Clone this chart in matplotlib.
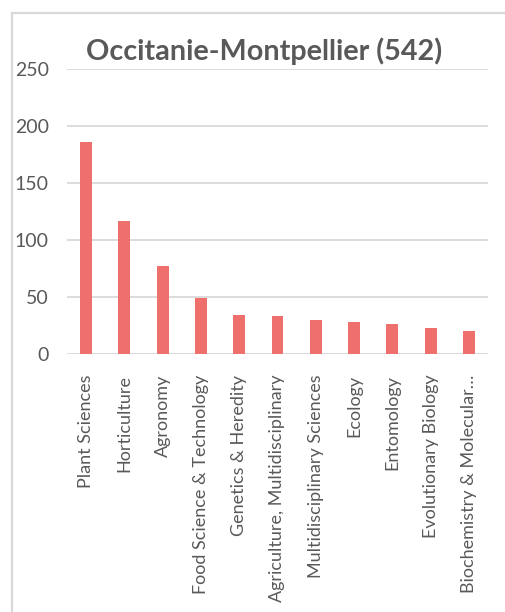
import numpy as np
import matplotlib.pyplot as plt
from matplotlib.lines import Line2D

plt.rcParams['font.family'] = ['Lato', 'DejaVu Sans']

categories = ['Plant Sciences', 'Horticulture', 'Agronomy', 'Food Science & Technology',
              'Genetics & Heredity', 'Agriculture, Multidisciplinary',
              'Multidisciplinary Sciences', 'Ecology', 'Entomology',
              'Evolutionary Biology', 'Biochemistry & Molecular…']
counts = [186, 117, 77, 49, 34, 33, 30, 28, 26, 23, 20]
y_ticks = [0, 50, 100, 150, 200, 250]
title = 'Occitanie-Montpellier (542)'

text_grey = '#595959'
line_grey = '#D9D9D9'
bar_red = '#EF6F6C'

fig = plt.figure(figsize=(5.06, 6.12), dpi=100)
ax = fig.add_axes([0.1324, 0.4216, 0.832, 0.4657])

x = np.arange(len(categories))
ax.bar(x, counts, width=0.31, color=bar_red, zorder=3)
for t in y_ticks:
    ax.axhline(t, color=line_grey, lw=1.3, zorder=1)

ax.set_xlim(-0.5, len(categories) - 0.5)
ax.set_ylim(0, 250)
ax.set_yticks(y_ticks)
ax.set_xticks(x)
ax.set_xticklabels(categories, rotation=90, ha='center', va='top', fontsize=13)
ax.tick_params(axis='both', length=0, colors=text_grey)
ax.tick_params(axis='y', pad=13, labelsize=14)
ax.tick_params(axis='x', pad=15)
for s in ax.spines.values():
    s.set_visible(False)

fig.text(0.522, 0.917, title, ha='center', va='center', fontsize=20.7,
         fontweight='bold', color=text_grey)

# chart frame
fig.add_artist(Line2D([12 / 506, 12 / 506], [0, 1 - 12.5 / 612], color=line_grey, lw=1.6))
fig.add_artist(Line2D([12 / 506, 1], [1 - 12.5 / 612, 1 - 12.5 / 612], color=line_grey, lw=1.6))

fig.savefig('out.png', dpi=100)
